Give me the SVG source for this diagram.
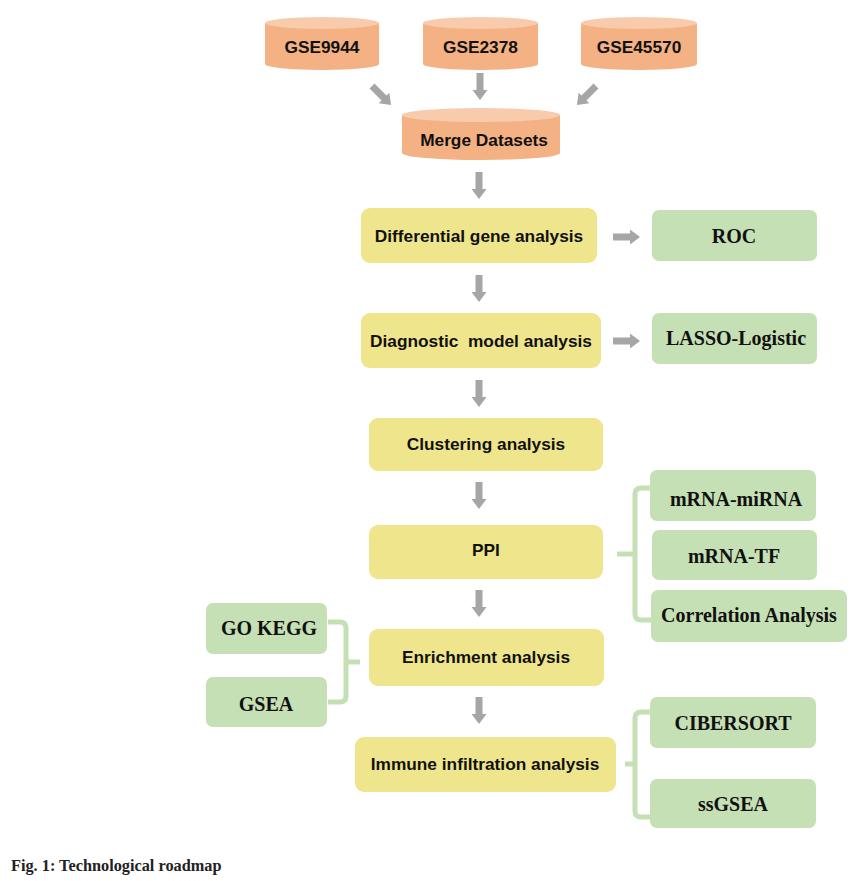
<svg xmlns="http://www.w3.org/2000/svg" xmlns:xlink="http://www.w3.org/1999/xlink" width="851" height="881" viewBox="0 0 851 881">
<style>
.cylb{fill:#f4b183}
.cylt{fill:#f8cbad}
.yel{fill:#efe58c}
.grn{fill:#c5e0b4}
.arr{fill:#a6a6a6}
.brk{fill:none;stroke:#c5e0b4;stroke-width:5;stroke-linejoin:round;stroke-linecap:butt}
.ts{font-family:"Liberation Sans",Arial,sans-serif;font-weight:bold;font-size:17.3px;fill:#111;text-anchor:middle}
.tr{font-family:"Liberation Serif","Times New Roman",serif;font-weight:bold;font-size:20px;fill:#111;text-anchor:middle}
.cap{font-family:"Liberation Serif","Times New Roman",serif;font-weight:bold;font-size:16.3px;fill:#222}
</style>
<defs>
<path id="ar" d="M-3.5,0 H3.5 V17 H7.5 L0,27 L-7.5,17 H-3.5 Z"/>
</defs>
<rect width="851" height="881" fill="#ffffff"/>
<g id="connectors">
<use xlink:href="#ar" class="arr" transform="translate(372,86) rotate(-45)"/>
<use xlink:href="#ar" class="arr" transform="translate(480,73)"/>
<use xlink:href="#ar" class="arr" transform="translate(596,86) rotate(45)"/>
<use xlink:href="#ar" class="arr" transform="translate(479,172)"/>
<use xlink:href="#ar" class="arr" transform="translate(479,275)"/>
<use xlink:href="#ar" class="arr" transform="translate(479,380)"/>
<use xlink:href="#ar" class="arr" transform="translate(479,482)"/>
<use xlink:href="#ar" class="arr" transform="translate(479,590)"/>
<use xlink:href="#ar" class="arr" transform="translate(479,697)"/>
<use xlink:href="#ar" class="arr" transform="translate(613,237) rotate(-90)"/>
<use xlink:href="#ar" class="arr" transform="translate(613,341) rotate(-90)"/>
<path class="brk" d="M652,488 H641 Q635,488 635,494 V614 Q635,620 641,620 H652 M635,554 H617"/>
<path class="brk" d="M328,622 H340 Q346,622 346,628 V696 Q346,702 340,702 H328 M346,662 H360"/>
<path class="brk" d="M652,712 H641 Q635,712 635,718 V811 Q635,817 641,817 H652 M635,764 H625"/>
</g>
<g id="gse9944">
<path class="cylb" d="M265,23 V64 A57,6 0 0 0 379,64 V23 Z"/>
<ellipse class="cylt" cx="322" cy="23" rx="57" ry="6"/>
<text class="ts" x="322" y="53">GSE9944</text>
</g>
<g id="gse2378">
<path class="cylb" d="M423,23 V64 A57.5,6 0 0 0 538,64 V23 Z"/>
<ellipse class="cylt" cx="480.5" cy="23" rx="57.5" ry="6"/>
<text class="ts" x="480.5" y="53">GSE2378</text>
</g>
<g id="gse45570">
<path class="cylb" d="M581,23 V64 A58,6 0 0 0 697,64 V23 Z"/>
<ellipse class="cylt" cx="639" cy="23" rx="58" ry="6"/>
<text class="ts" x="639" y="53">GSE45570</text>
</g>
<g id="merge">
<path class="cylb" d="M402,115 V153 A79,7 0 0 0 560,153 V115 Z"/>
<ellipse class="cylt" cx="481" cy="115" rx="79" ry="7"/>
<text class="ts" x="484" y="146">Merge Datasets</text>
</g>
<g id="diff">
<rect class="yel" x="361" y="208" width="236" height="55" rx="9"/>
<text class="ts" x="479" y="242">Differential gene analysis</text>
</g>
<g id="roc">
<rect class="grn" x="652" y="210" width="165" height="51" rx="7"/>
<text class="tr" x="734" y="243">ROC</text>
</g>
<g id="diag">
<rect class="yel" x="361" y="313" width="240" height="55" rx="9"/>
<text class="ts" x="481" y="347" xml:space="preserve">Diagnostic  model analysis</text>
</g>
<g id="lasso">
<rect class="grn" x="652" y="313" width="165" height="51" rx="7"/>
<text class="tr" x="736" y="345">LASSO-Logistic</text>
</g>
<g id="cluster">
<rect class="yel" x="369" y="418" width="234" height="53" rx="9"/>
<text class="ts" x="486" y="450">Clustering analysis</text>
</g>
<g id="ppi">
<rect class="yel" x="369" y="525" width="234" height="54" rx="9"/>
<text class="ts" x="486" y="556">PPI</text>
</g>
<g id="mirna">
<rect class="grn" x="650" y="470" width="166" height="51" rx="7"/>
<text class="tr" x="736" y="506">mRNA-miRNA</text>
</g>
<g id="tf">
<rect class="grn" x="652" y="530" width="165" height="50" rx="7"/>
<text class="tr" x="734" y="563">mRNA-TF</text>
</g>
<g id="corr">
<rect class="grn" x="651" y="590" width="196" height="52" rx="7"/>
<text class="tr" x="749" y="622">Correlation Analysis</text>
</g>
<g id="gokegg">
<rect class="grn" x="206" y="603" width="121" height="51" rx="7"/>
<text class="tr" x="269" y="635">GO KEGG</text>
</g>
<g id="gsea">
<rect class="grn" x="206" y="677" width="121" height="50" rx="7"/>
<text class="tr" x="266" y="711">GSEA</text>
</g>
<g id="enrich">
<rect class="yel" x="369" y="629" width="235" height="57" rx="9"/>
<text class="ts" x="486" y="663">Enrichment analysis</text>
</g>
<g id="immune">
<rect class="yel" x="355" y="737" width="261" height="55" rx="9"/>
<text class="ts" x="485" y="770">Immune infiltration analysis</text>
</g>
<g id="cibersort">
<rect class="grn" x="650" y="697" width="166" height="51" rx="7"/>
<text class="tr" x="733" y="730">CIBERSORT</text>
</g>
<g id="ssgsea">
<rect class="grn" x="650" y="779" width="166" height="49" rx="7"/>
<text class="tr" x="733" y="811">ssGSEA</text>
</g>
<text class="cap" x="11" y="871">Fig. 1: Technological roadmap</text>
</svg>
